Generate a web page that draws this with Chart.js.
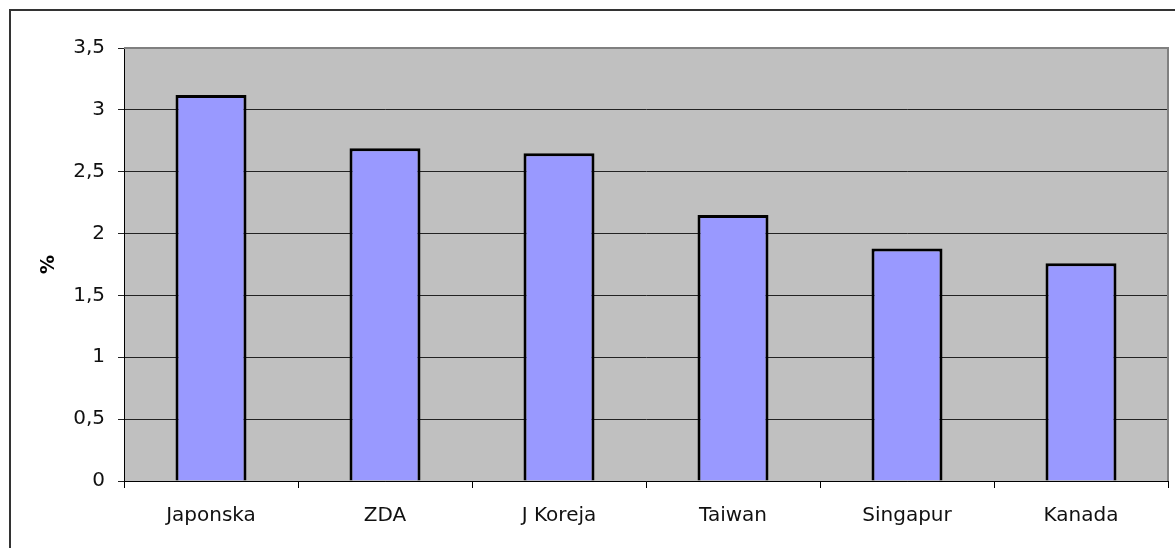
<!DOCTYPE html>
<html>
<head>
<meta charset="utf-8">
<script src="https://cdn.jsdelivr.net/npm/chart.js@4"></script>
<style>
  html, body { margin: 0; padding: 0; background: #fff; }
  #wrap { width: 1175px; height: 548px; position: relative; }
</style>
</head>
<body>
<div id="wrap"><canvas id="chart" width="1175" height="548"></canvas></div>
<script>
// Chart data
const countries = ['Japonska', 'ZDA', 'J Koreja', 'Taiwan', 'Singapur', 'Kanada'];
const shares = [3.12, 2.69, 2.65, 2.15, 1.88, 1.76];
const yTicks = [0, 0.5, 1, 1.5, 2, 2.5, 3, 3.5];

// Gray plot background, plot frame and outer border
const framePlugin = {
  id: 'frame',
  beforeDraw(chart) {
    const { ctx, chartArea: a } = chart;
    ctx.save();
    ctx.fillStyle = '#C0C0C0';
    ctx.fillRect(a.left, a.top, a.right - a.left, a.bottom - a.top);
    ctx.restore();
  },
  afterDraw(chart) {
    const { ctx, chartArea: a } = chart;
    ctx.save();
    ctx.strokeStyle = '#808080';
    ctx.lineWidth = 2;
    ctx.beginPath();
    ctx.moveTo(a.left, a.top);
    ctx.lineTo(a.right, a.top);
    ctx.lineTo(a.right, a.bottom);
    ctx.stroke();
    // outer chart border
    ctx.strokeStyle = '#333';
    ctx.lineWidth = 2;
    ctx.beginPath();
    ctx.moveTo(10, 560);
    ctx.lineTo(10, 10);
    ctx.lineTo(1180, 10);
    ctx.stroke();
    ctx.restore();
  }
};

const ctx = document.getElementById('chart').getContext('2d');
new Chart(ctx, {
  type: 'bar',
  data: {
    labels: countries,
    datasets: [{
      data: shares,
      backgroundColor: '#9999FF',
      borderColor: '#000',
      borderWidth: 3,
      categoryPercentage: 0.8,
      barPercentage: 0.51,
    }],
  },
  options: {
    responsive: false,
    animation: false,
    layout: { padding: { top: 48, right: 7, left: 36, bottom: 0 } },
    plugins: {
      legend: { display: false },
      tooltip: { enabled: false },
    },
    scales: {
      x: {
        offset: true,
        grid: {
          offset: true,
          drawOnChartArea: false,
          drawTicks: true,
          tickLength: 7,
          color: '#000',
        },
        border: { color: '#000', width: 1 },
        ticks: {
          color: '#111',
          padding: 16,
          font: { family: 'DejaVu Sans', size: 20 },
        },
        afterFit(scale) { scale.height = 67; },
      },
      y: {
        min: 0,
        max: 3.5,
        afterBuildTicks(scale) { scale.ticks = yTicks.map(v => ({ value: v })); },
        grid: {
          color: '#222',
          lineWidth: 1,
          tickLength: 6,
        },
        border: { color: '#000', width: 1 },
        ticks: {
          color: '#111',
          padding: 13,
          font: { family: 'DejaVu Sans', size: 20 },
          callback: v => String(v).replace('.', ','),
        },
        title: {
          display: true,
          text: '%',
          color: '#000',
          font: { family: 'DejaVu Sans', size: 19, weight: 'bold' },
          padding: { top: 2, bottom: 0 },
        },
        afterFit(scale) { scale.width = 88; },
      },
    },
  },
  plugins: [framePlugin],
});
</script>
</body>
</html>
